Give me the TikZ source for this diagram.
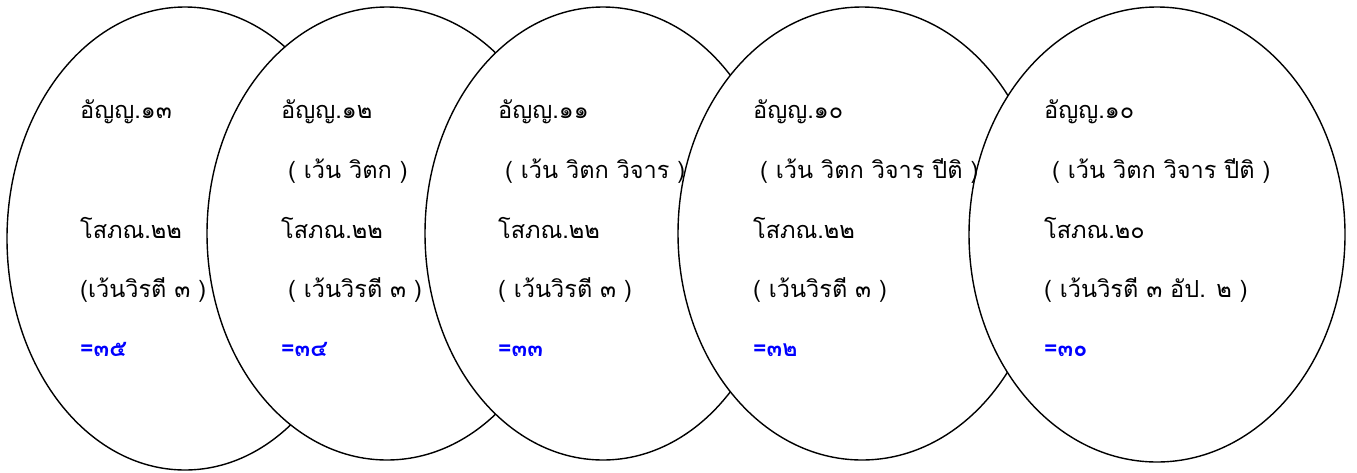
\documentclass[tikz,border=0pt]{standalone}
\usepackage{fontspec}
\newfontfamily\thaifont[Script=Thai]{Loma}
\usetikzlibrary{shapes.geometric}

\begin{document}
\begin{tikzpicture}[x=1pt,y=-1pt,
    ring/.style={draw, ellipse, fill=white, line width=1.4pt, inner sep=0pt},
    txt/.style={anchor=base west, inner sep=0pt, font=\thaifont\fontsize{23.5}{28}\selectfont},
    total/.style={txt, text=blue, font=\thaifont\bfseries\fontsize{23}{28}\selectfont}]
            \useasboundingbox (0,0) rectangle (1357,472);

            % Ellipses
            \node[ring, minimum width=356, minimum height=463] (e1) at (185,238.5) {};
            \node[ring, minimum width=360, minimum height=453] (e2) at (387,233.5) {};
            \node[ring, minimum width=356, minimum height=453] (e3) at (603,233.5) {};
            \node[ring, minimum width=368, minimum height=453] (e4) at (862,233.5) {};
            \node[ring, minimum width=376, minimum height=455] (e5) at (1157,234.5) {};

            % Ellipse 1
            \node[txt] (a1) at (80,118) {อัญญ.๑๓};
            \node[txt] (s1) at (80,238) {โสภณ.๒๒};
            \node[txt] (v1) at (80,297) {(เว้นวิรตี ๓ )};
            \node[total] (t1) at (80,356) {=๓๕};

            % Ellipse 2
            \node[txt] (a2) at (281,118) {อัญญ.๑๒};
            \node[txt] (w2) at (288,178) {( เว้น วิตก )};
            \node[txt] (s2) at (281,238) {โสภณ.๒๒};
            \node[txt] (v2) at (288,297) {( เว้นวิรตี ๓ )};
            \node[total] (t2) at (281,356) {=๓๔};

            % Ellipse 3
            \node[txt] (a3) at (498,118) {อัญญ.๑๑};
            \node[txt] (w3) at (505,178) {( เว้น วิตก วิจาร )};
            \node[txt] (s3) at (498,238) {โสภณ.๒๒};
            \node[txt] (v3) at (498,297) {( เว้นวิรตี ๓ )};
            \node[total] (t3) at (498,356) {=๓๓};

            % Ellipse 4
            \node[txt] (a4) at (753,118) {อัญญ.๑๐};
            \node[txt] (w4) at (760,178) {( เว้น วิตก วิจาร ปีติ )};
            \node[txt] (s4) at (753,238) {โสภณ.๒๒};
            \node[txt] (v4) at (753,297) {( เว้นวิรตี ๓ )};
            \node[total] (t4) at (753,356) {=๓๒};

            % Ellipse 5
            \node[txt] (a5) at (1044,118) {อัญญ.๑๐};
            \node[txt] (w5) at (1052,178) {( เว้น วิตก วิจาร ปีติ )};
            \node[txt] (s5) at (1044,238) {โสภณ.๒๐};
            \node[txt] (v5) at (1044,297) {( เว้นวิรตี ๓ อัป. ๒ )};
            \node[total] (t5) at (1044,356) {=๓๐};

        \end{tikzpicture}
\end{document}
